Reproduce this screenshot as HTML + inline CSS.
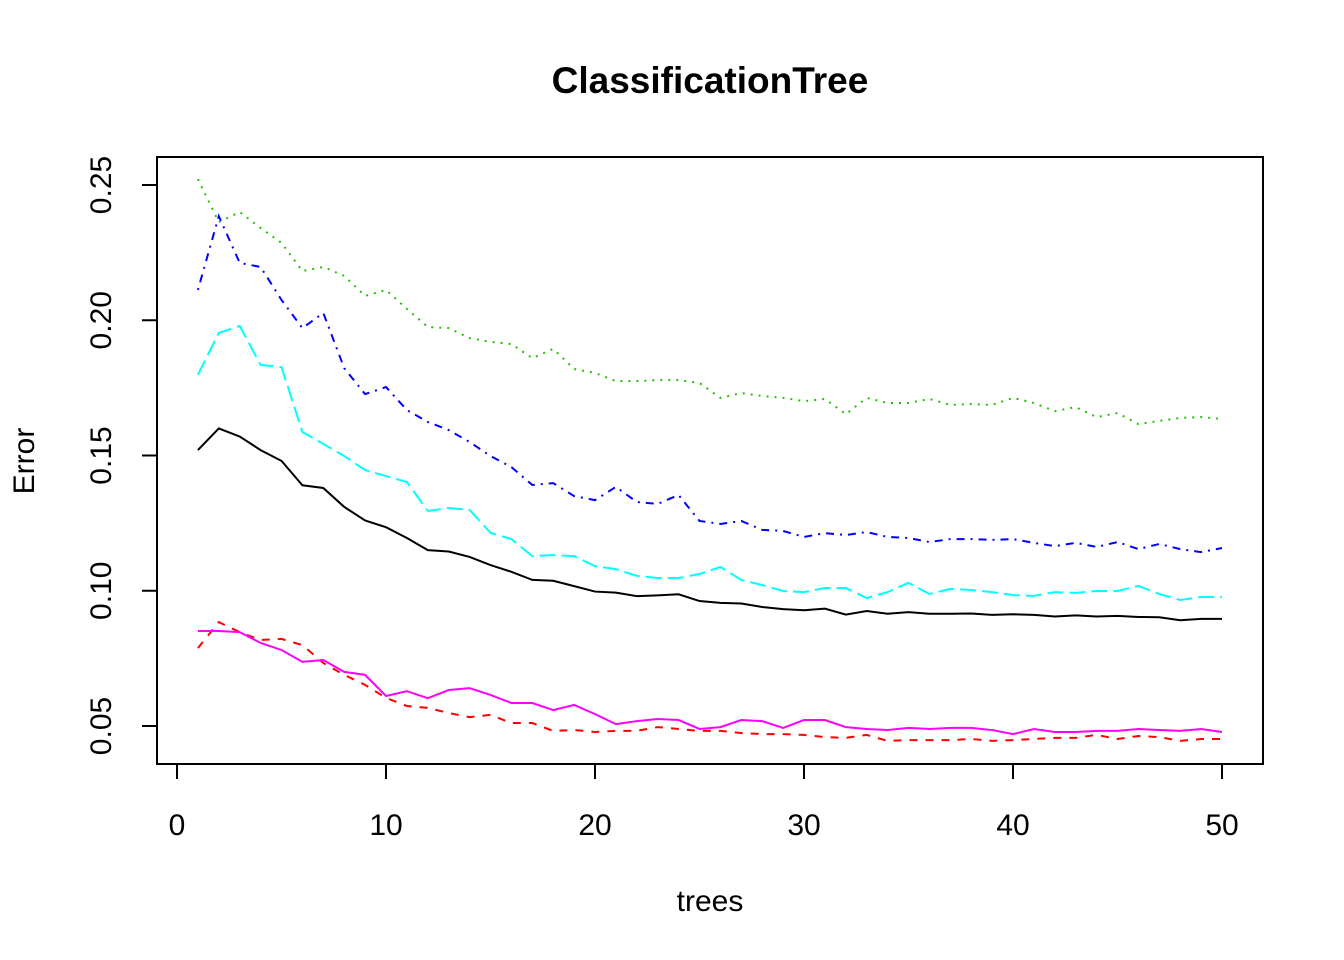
<!DOCTYPE html>
<html><head><meta charset="utf-8"><style>
html,body{margin:0;padding:0;background:#fff;}
svg{display:block;font-family:"Liberation Sans",Arial,sans-serif;}
</style></head><body>
<svg id="chart" width="1344" height="960"></svg>
<script>
const xs = Array.from({length:50},(_,i)=>i+1);
const oob = [0.152,0.160,0.157,0.152,0.148,0.139,0.138,0.131,0.126,0.1235,0.1195,0.115,0.1145,0.1125,0.1095,0.107,0.104,0.1037,0.1017,0.0997,0.0993,0.098,0.0983,0.0987,0.0962,0.0955,0.0953,0.094,0.0932,0.0928,0.0934,0.0912,0.0925,0.0915,0.0921,0.0915,0.0915,0.0916,0.0911,0.0913,0.0911,0.0905,0.0909,0.0905,0.0907,0.0903,0.0902,0.0891,0.0896,0.0896];
const red = [0.0788,0.0884,0.0847,0.0818,0.0822,0.0799,0.0733,0.0689,0.0652,0.0604,0.0574,0.0567,0.0548,0.0533,0.0541,0.0511,0.0511,0.0482,0.0485,0.0478,0.0482,0.0482,0.0496,0.0489,0.0482,0.0482,0.0474,0.047,0.047,0.0467,0.0459,0.0456,0.0467,0.0445,0.0448,0.0448,0.0448,0.0452,0.0445,0.0448,0.0452,0.0456,0.0456,0.0467,0.0452,0.0463,0.0459,0.0445,0.0452,0.0452];
const green = [0.2522,0.2363,0.240,0.2341,0.2286,0.2182,0.2197,0.2164,0.209,0.2112,0.2042,0.1975,0.1971,0.1934,0.192,0.1912,0.186,0.1894,0.182,0.1805,0.1775,0.1775,0.1779,0.1779,0.1768,0.1713,0.1731,0.172,0.1713,0.1701,0.1709,0.1653,0.1713,0.1694,0.1694,0.1709,0.1687,0.169,0.1687,0.1713,0.1694,0.1664,0.1679,0.1642,0.1657,0.1616,0.1628,0.1639,0.1642,0.1635];
const blue = [0.2112,0.2385,0.2212,0.2197,0.2075,0.1971,0.2027,0.1823,0.1727,0.1753,0.1668,0.1624,0.1594,0.155,0.1498,0.1457,0.1391,0.1398,0.135,0.1335,0.1384,0.1328,0.1321,0.1354,0.1258,0.1247,0.1258,0.1225,0.1221,0.1199,0.1213,0.1206,0.1217,0.1199,0.1195,0.118,0.1191,0.1191,0.1188,0.1191,0.1177,0.1165,0.1177,0.1162,0.118,0.1154,0.1173,0.1154,0.1143,0.1158];
const cyan = [0.1798,0.1953,0.1979,0.1835,0.1827,0.1587,0.1543,0.1498,0.1446,0.1424,0.1402,0.1295,0.1306,0.1299,0.1214,0.1191,0.1128,0.1132,0.1128,0.1091,0.108,0.1055,0.1047,0.1047,0.1062,0.1088,0.104,0.1021,0.0999,0.0995,0.101,0.101,0.0973,0.0995,0.1029,0.0988,0.1007,0.1003,0.0995,0.0984,0.0981,0.0995,0.0992,0.0999,0.0999,0.1018,0.0988,0.0966,0.0977,0.0977];
const magenta = [0.0851,0.0851,0.0847,0.0807,0.0781,0.0737,0.0744,0.07,0.0689,0.0611,0.0629,0.0603,0.0633,0.064,0.0615,0.0585,0.0585,0.0559,0.0578,0.0544,0.0507,0.0518,0.0526,0.0522,0.0489,0.0496,0.0522,0.0518,0.0493,0.0522,0.0522,0.0496,0.0489,0.0485,0.0493,0.0489,0.0493,0.0493,0.0485,0.047,0.0489,0.0478,0.0478,0.0482,0.0482,0.0489,0.0485,0.0482,0.0489,0.0478];
const xTicks = [0,10,20,30,40,50];
const yTicks = [0.05,0.10,0.15,0.20,0.25];
const yTickLabels = ["0.05","0.10","0.15","0.20","0.25"];

const NS="http://www.w3.org/2000/svg";
const svg=document.getElementById('chart');
const X=v=>177+(v-0)*(1222-177)/50;
const Y=v=>726-(v-0.05)*(726-185)/0.20;
function mk(tag,attrs,parent){const e=document.createElementNS(NS,tag);for(const k in attrs)e.setAttribute(k,attrs[k]);(parent||svg).appendChild(e);return e;}

let t=mk('text',{x:710,y:93,'text-anchor':'middle','font-size':37,'font-weight':'bold'});
t.textContent='ClassificationTree';



let box=mk('rect',{x:157,y:157,width:1106,height:607,fill:'none',stroke:'#000','stroke-width':2});



let xa=mk('line',{x1:X(0),x2:X(50),y1:764,y2:764,stroke:'#000','stroke-width':2});


xTicks.forEach(v=>{
  const l=mk('line',{x1:X(v),x2:X(v),y1:764,y2:779,stroke:'#000','stroke-width':2});
  
  
  const tt=mk('text',{x:X(v),y:835,'text-anchor':'middle','font-size':30});
  tt.textContent=String(v);
  
  
});
let ya=mk('line',{x1:157,x2:157,y1:Y(0.05),y2:Y(0.25),stroke:'#000','stroke-width':2});


yTicks.forEach((v,i)=>{
  const l=mk('line',{x1:142,x2:157,y1:Y(v),y2:Y(v),stroke:'#000','stroke-width':2});
  
  
  const tt=mk('text',{x:0,y:0,'text-anchor':'middle','font-size':30,transform:`translate(111,${Y(v)}) rotate(-90)`});
  tt.textContent=yTickLabels[i];
  
  
});
let xl=mk('text',{x:710,y:911,'text-anchor':'middle','font-size':30});
xl.textContent='trees';


let yl=mk('text',{x:0,y:0,'text-anchor':'middle','font-size':30,transform:'translate(34,461) rotate(-90)'});
yl.textContent='Error';



const series=[
 {d:oob,c:'#000000',dash:'',n:'oob-line'},
 {d:red,c:'#ff0000',dash:'8,8',n:'class1-line'},
 {d:green,c:'#22c000',dash:'2,6',n:'class2-line'},
 {d:blue,c:'#0000ff',dash:'2,6,8,6',n:'class3-line'},
 {d:cyan,c:'#00ffff',dash:'16,6',n:'class4-line'},
 {d:magenta,c:'#ff00ff',dash:'',n:'class5-line'}
];
series.forEach(s=>{
  const p=mk('polyline',{points:s.d.map((v,i)=>X(xs[i])+','+Y(v)).join(' '),fill:'none',stroke:s.c,'stroke-width':2,'stroke-dasharray':s.dash});
  
  
});
</script>
</body></html>
